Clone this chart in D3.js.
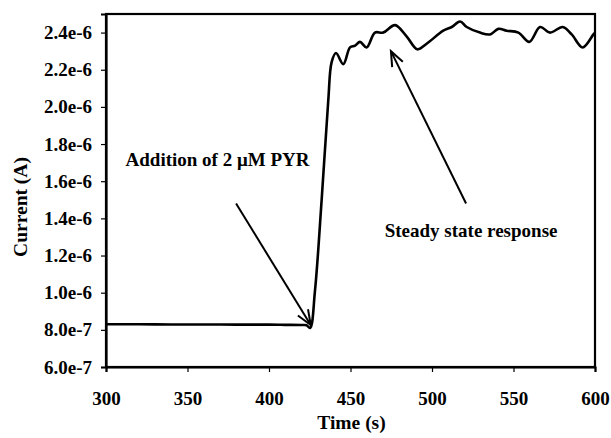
<!DOCTYPE html>
<html><head><meta charset="utf-8">
<script src="https://cdn.jsdelivr.net/npm/d3@7"></script>
<style>
body{margin:0;background:#fff;}
svg text{font-family:"Liberation Serif","Times New Roman",serif;font-weight:bold;fill:#000;}
</style></head>
<body><svg id="c" width="611" height="438"></svg>
<script>
const times = [300,320,340,360,380,400,410,420,423,425.2,428.2,432.3,436.4,438.4,441.1,445.6,449.7,452.8,455.8,459.9,465.0,470.1,477.3,484.4,491.0,496.7,506.9,512.1,517.2,521.3,529.4,535.6,540.7,545.8,553.0,559.7,566.3,572.4,580.2,585.7,592.4,599,600];
const current = [8.30e-7,8.30e-7,8.29e-7,8.29e-7,8.28e-7,8.28e-7,8.27e-7,8.26e-7,8.25e-7,8.10e-7,1.01e-6,1.50e-6,2.04e-6,2.24e-6,2.29e-6,2.23e-6,2.32e-6,2.33e-6,2.35e-6,2.32e-6,2.40e-6,2.40e-6,2.44e-6,2.38e-6,2.31e-6,2.34e-6,2.41e-6,2.43e-6,2.46e-6,2.43e-6,2.40e-6,2.39e-6,2.42e-6,2.41e-6,2.40e-6,2.35e-6,2.43e-6,2.40e-6,2.43e-6,2.39e-6,2.32e-6,2.39e-6,2.40e-6];
const xTicks = [300,350,400,450,500,550,600];
const yTicks = [6e-7,8e-7,1.0e-6,1.2e-6,1.4e-6,1.6e-6,1.8e-6,2.0e-6,2.2e-6,2.4e-6];
const yTickLabels = ["6.0e-7","8.0e-7","1.0e-6","1.2e-6","1.4e-6","1.6e-6","1.8e-6","2.0e-6","2.2e-6","2.4e-6"];
const annotations = [
  {text:"Addition of 2 \u03bcM PYR", tx:312, ty:1.68e-6, from:[379.8,1.48e-6], to:[425.6,8.26e-7]},
  {text:"Steady state response", tx:471, ty:1.30e-6, from:[520.9,1.48e-6], to:[474.8,2.30e-6]}
];

const svg = d3.select("#c");
const m = {l:106, r:16, t:14, b:71};
const W = 611, H = 438;
const x = d3.scaleLinear().domain([300,600]).range([m.l, W-m.r]);
const y = d3.scaleLinear().domain([6e-7,2.5e-6]).range([H-m.b, m.t]);
const FONT = "'Liberation Serif','Times New Roman',serif";

svg.append("rect").attr("x",x(300)).attr("y",y(2.5e-6)).attr("width",x(600)-x(300)).attr("height",y(6e-7)-y(2.5e-6))
  .attr("fill","none").attr("stroke","#000").attr("stroke-width",2.2);

const xa = svg.append("g").attr("transform",`translate(0,${y(6e-7)})`)
  .call(d3.axisBottom(x).tickValues(xTicks).tickSize(5).tickPadding(20).tickFormat(d3.format("d")));
const ya = svg.append("g").attr("transform",`translate(${x(300)},0)`)
  .call(d3.axisLeft(y).tickValues(yTicks).tickSize(5).tickPadding(9).tickFormat((d,i)=>yTickLabels[i]));
[xa,ya].forEach(g=>{
  g.attr("font-family",null).attr("font-size",null);
  g.select(".domain").attr("stroke","#000").attr("stroke-width",2.2);
  g.selectAll(".tick line").attr("stroke","#000").attr("stroke-width",1.2);
  g.selectAll("text").style("font-size","19px").style("font-family",FONT).style("font-weight","bold");
});

svg.append("text").attr("x",(x(300)+x(600))/2+1).attr("y",429).attr("text-anchor","middle").style("font-size","19.5px").text("Time (s)");
svg.append("text").attr("transform",`translate(27,207) rotate(-90)`).attr("text-anchor","middle").style("font-size","19.5px").text("Current (A)");

svg.append("path").datum(times.map((t,i)=>[t,current[i]]))
  .attr("d", d3.line().x(d=>x(d[0])).y(d=>y(d[1])).curve(d3.curveCatmullRom.alpha(0.5)))
  .attr("fill","none").attr("stroke","#000").attr("stroke-width",2.6).attr("stroke-linejoin","round");

annotations.forEach(a=>{
  const x1=x(a.from[0]), y1=y(a.from[1]), x2=x(a.to[0]), y2=y(a.to[1]);
  svg.append("line").attr("x1",x1).attr("y1",y1).attr("x2",x2).attr("y2",y2).attr("stroke","#000").attr("stroke-width",2);
  const ang=Math.atan2(y2-y1,x2-x1), L=16, sp=0.38;
  const p1=[x2-L*Math.cos(ang-sp), y2-L*Math.sin(ang-sp)];
  const p2=[x2-L*Math.cos(ang+sp), y2-L*Math.sin(ang+sp)];
  svg.append("path").attr("d",`M${p1}L${x2},${y2}L${p2}`).attr("fill","none").attr("stroke","#000").attr("stroke-width",2);
  svg.append("text").attr("x",x(a.tx)).attr("y",y(a.ty)).style("font-size","19px").text(a.text);
});
</script></body></html>
